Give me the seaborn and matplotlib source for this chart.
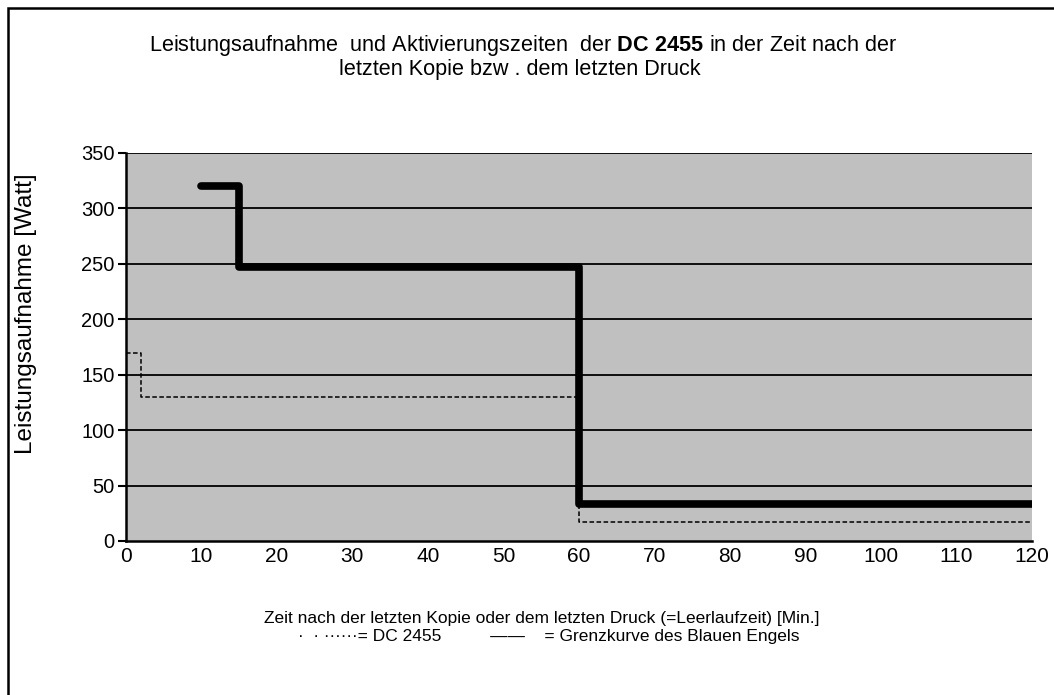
import numpy as np
import pandas as pd
import seaborn as sns
import matplotlib.pyplot as plt
from matplotlib.patches import Rectangle

# Werte (Stufenkurven)
grenz_x = [10, 15, 60, 120]
grenz_y = [320, 247, 33, 33]
dc_x = [0, 2, 60, 120]
dc_y = [170, 130, 17, 17]

x_ticks = list(range(0, 121, 10))
y_ticks = list(range(0, 351, 50))

sns.set_style("white")
plt.rcParams['font.family'] = ['Liberation Sans', 'DejaVu Sans']
plt.rcParams['mathtext.fontset'] = 'custom'
plt.rcParams['mathtext.rm'] = 'Liberation Sans'
plt.rcParams['mathtext.bf'] = 'Liberation Sans:bold'
plt.rcParams['text.color'] = 'black'
plt.rcParams['axes.labelcolor'] = 'black'
plt.rcParams['xtick.color'] = 'black'
plt.rcParams['ytick.color'] = 'black'

df_grenz = pd.DataFrame({'x': grenz_x, 'y': grenz_y})
df_dc = pd.DataFrame({'x': dc_x, 'y': dc_y})

fig = plt.figure(figsize=(10.54, 6.95), dpi=100)
ax = fig.add_axes([0.1195, 0.2216, 0.8595, 0.5583])
ax.set_facecolor('#C0C0C0')

# Rahmen um das ganze Diagramm
fig.patches.append(Rectangle((8 / 1054, -0.05), 1.2, 1 - 8 / 695 + 0.05,
                             transform=fig.transFigure, fill=False,
                             edgecolor='black', linewidth=1.8, zorder=0))

for yv in y_ticks[1:]:
    ax.axhline(yv, color='black', linewidth=1.3, zorder=1)

sns.lineplot(data=df_dc, x='x', y='y', ax=ax, drawstyle='steps-post',
             color='black', linewidth=1.1, linestyle=(0, (3, 1.6)), zorder=3)
sns.lineplot(data=df_grenz, x='x', y='y', ax=ax, drawstyle='steps-post',
             color='black', linewidth=5.5, solid_capstyle='round',
             solid_joinstyle='round', zorder=4)

ax.set_xlim(0, 120)
ax.set_ylim(0, 350)
ax.set_xticks(x_ticks)
ax.set_yticks(y_ticks)
ax.tick_params(axis='x', length=0, labelsize=15, pad=4)
ax.tick_params(axis='y', length=6, width=1.5, direction='out', left=True,
               labelsize=14.5, pad=2)
ax.set_xlabel('')
ax.set_ylabel('Leistungsaufnahme [Watt]', fontsize=17.5)
ax.yaxis.set_label_coords(-0.098, 0.585)

for side in ['top', 'right']:
    ax.spines[side].set_visible(False)
for side in ['left', 'bottom']:
    ax.spines[side].set_color('black')
    ax.spines[side].set_linewidth(1.8)

fig.text(0.496, 1 - 46 / 695,
         r'Leistungsaufnahme  und Aktivierungszeiten  der $\mathbf{DC\ 2455}$ in der Zeit nach der',
         ha='center', va='center', fontsize=15.6)
fig.text(0.493, 1 - 69 / 695, 'letzten Kopie bzw . dem letzten Druck',
         ha='center', va='center', fontsize=15.6)

fig.text(0.514, 1 - 618 / 695,
         'Zeit nach der letzten Kopie oder dem letzten Druck (=Leerlaufzeit) [Min.]',
         ha='center', va='center', fontsize=12.5)
fig.text(0.521, 1 - 637 / 695,
         '\u00b7  \u00b7 \u00b7\u00b7\u00b7\u00b7\u00b7\u00b7= DC 2455          \u2014\u2014    = Grenzkurve des Blauen Engels',
         ha='center', va='center', fontsize=12.5)

fig.savefig('out.png', dpi=100, facecolor='white')
